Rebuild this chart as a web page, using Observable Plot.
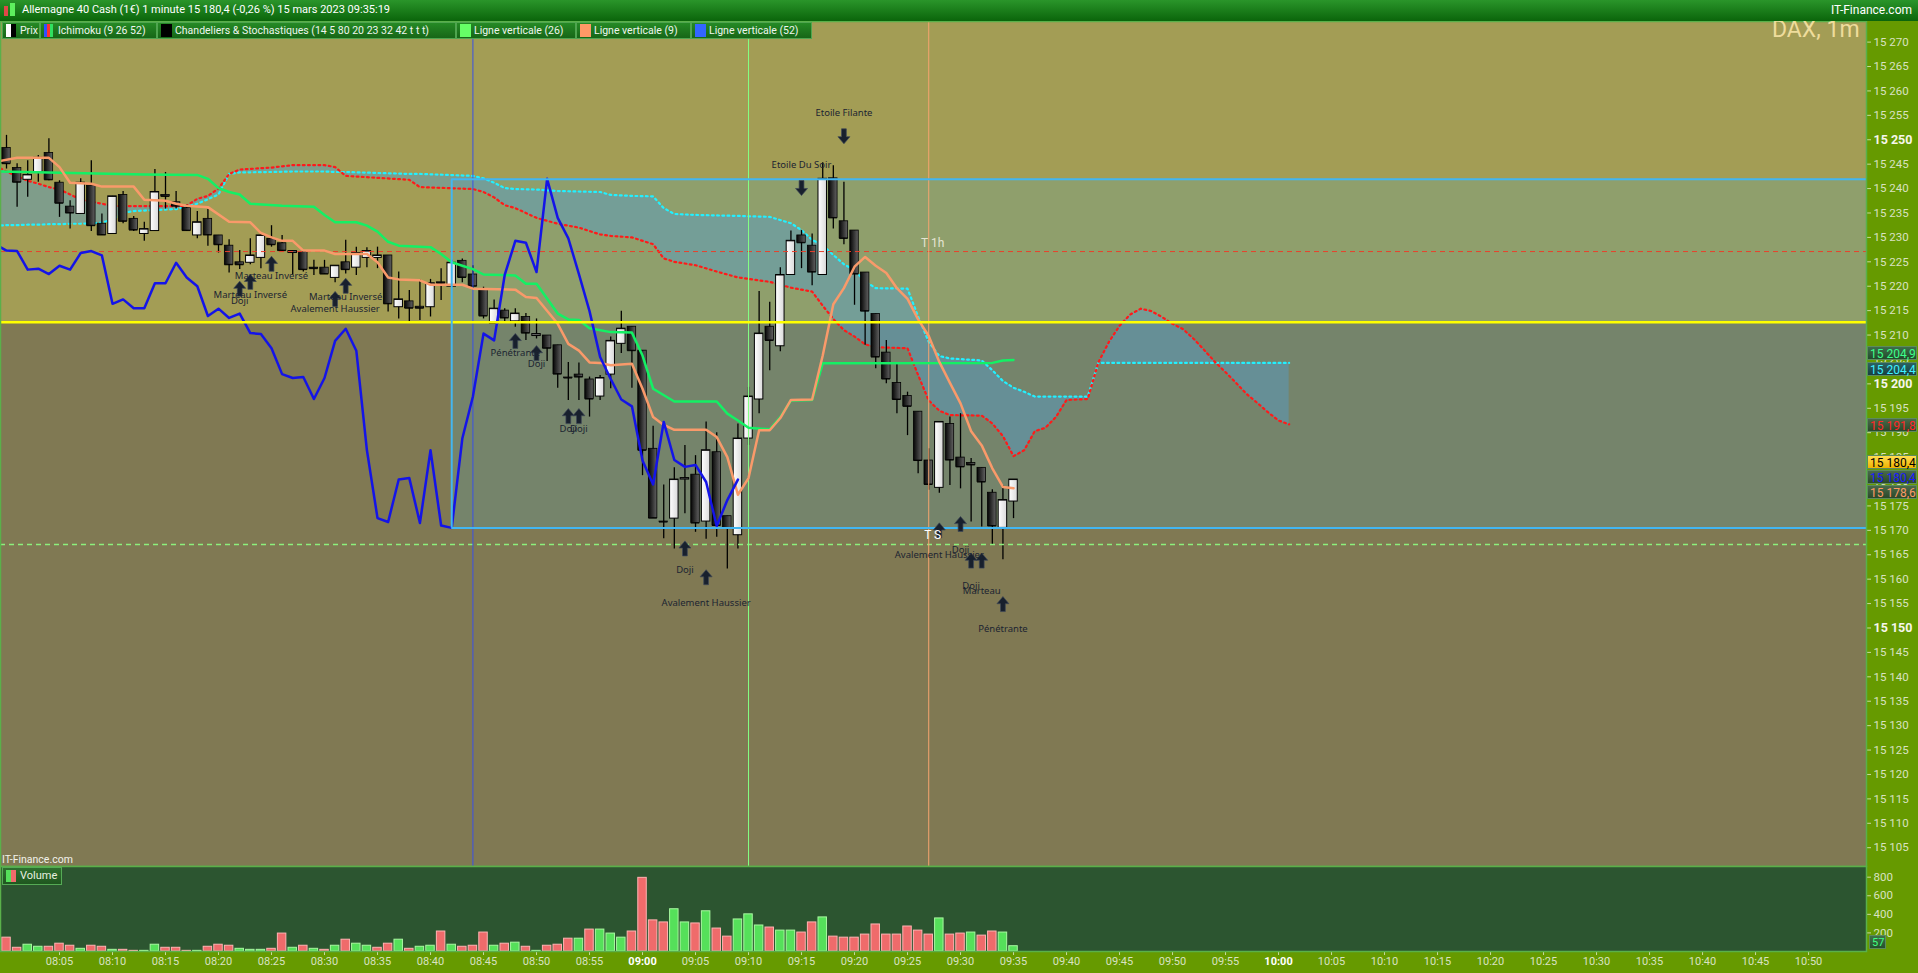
<!DOCTYPE html>
<html><head><meta charset="utf-8">
<script src="https://cdn.jsdelivr.net/npm/d3@7"></script>
<script src="https://cdn.jsdelivr.net/npm/@observablehq/plot@0.6"></script>
<style>
body{margin:0;width:1918px;height:973px;overflow:hidden;background:#669a00;position:relative;font-family:Roboto,"Noto Sans",sans-serif;}
#header{position:absolute;left:0;top:0;width:1918px;height:21px;background:linear-gradient(#2a952a,#0b650b);color:#fff;font-size:11px;z-index:3;}
#header .t{position:absolute;left:22px;top:3px;white-space:nowrap;}
#header .r{position:absolute;right:6px;top:3px;font-size:12px;}
.ico{position:absolute;}
#legend{position:absolute;left:2px;top:22px;height:17px;z-index:3;}
.li{position:absolute;top:0;height:15px;background:linear-gradient(#258a25,#176617);border:1px solid #4fa54f;color:#eef5ee;font-size:10.5px;line-height:15px;white-space:nowrap;overflow:hidden;}
.li .sw{position:absolute;left:3px;top:1px;width:11px;height:13px;}
.li .tx{position:absolute;left:17px;top:0;}
#dax{position:absolute;left:1772px;top:18px;font-size:23px;line-height:23px;color:#eedc9c;z-index:2;white-space:nowrap;}
#itf{position:absolute;left:2px;top:853px;font-size:10.5px;color:#f2f2ea;z-index:2;}
#vleg{position:absolute;left:2px;top:867px;width:58px;height:16px;background:linear-gradient(#2f6e2f,#1f561f);border:1px solid #55aa55;z-index:2;color:#e8f0e0;font-size:11px;line-height:16px;}
.badge{position:absolute;left:1867px;width:50px;height:14px;font-size:12px;line-height:14px;text-align:left;padding-left:2px;box-sizing:border-box;border:1px solid #5d8a5d;z-index:2;white-space:nowrap;}
</style></head><body>
<div id="header">
  <div class="ico" style="left:4px;top:6px;width:4px;height:10px;background:#e04848"></div>
  <div class="ico" style="left:10px;top:3px;width:5px;height:13px;background:#5ef05e"></div>
  <div class="t">Allemagne 40 Cash (1€) 1 minute 15 180,4 (-0,26 %) 15 mars 2023 09:35:19</div>
  <div class="r">IT-Finance.com</div>
</div>
<div id="price" style="position:absolute;left:0;top:21px"></div>
<div id="vol" style="position:absolute;left:0;top:866px"></div>
<div id="legend">
  <div class="li" style="left:0;width:36px"><div class="sw" style="width:5px;background:#fff"></div><div class="sw" style="left:8px;width:5px;background:#000"></div><div class="tx">Prix</div></div>
  <div class="li" style="left:38px;width:115px"><div class="sw" style="width:3px;background:#3050ff"></div><div class="sw" style="left:6px;width:3px;background:#ff3030"></div><div class="sw" style="left:9px;width:3px;background:#30e060"></div><div class="tx">Ichimoku (9 26 52)</div></div>
  <div class="li" style="left:155px;width:297px"><div class="sw" style="background:#000"></div><div class="tx">Chandeliers &amp; Stochastiques (14 5 80 20 23 32 42 t t t)</div></div>
  <div class="li" style="left:454px;width:118px"><div class="sw" style="background:#66ff66"></div><div class="tx">Ligne verticale (26)</div></div>
  <div class="li" style="left:574px;width:113px"><div class="sw" style="background:#ff9966"></div><div class="tx">Ligne verticale (9)</div></div>
  <div class="li" style="left:689px;width:119px"><div class="sw" style="background:#3366ff"></div><div class="tx">Ligne verticale (52)</div></div>
</div>
<div id="dax">DAX, 1m</div>
<div id="itf">IT-Finance.com</div>
<div id="vleg"><div style="position:absolute;left:3px;top:2px;width:5px;height:12px;background:#55e05a"></div><div style="position:absolute;left:8px;top:2px;width:5px;height:12px;background:#ef6b6b"></div><div style="position:absolute;left:17px;top:0">Volume</div></div>
<script>
// ---------- DATA ----------
const times = ["08:00","08:01","08:02","08:03","08:04","08:05","08:06","08:07","08:08","08:09",
"08:10","08:11","08:12","08:13","08:14","08:15","08:16","08:17","08:18","08:19",
"08:20","08:21","08:22","08:23","08:24","08:25","08:26","08:27","08:28","08:29",
"08:30","08:31","08:32","08:33","08:34","08:35","08:36","08:37","08:38","08:39",
"08:40","08:41","08:42","08:43","08:44","08:45","08:46","08:47","08:48","08:49",
"08:50","08:51","08:52","08:53","08:54","08:55","08:56","08:57","08:58","08:59",
"09:00","09:01","09:02","09:03","09:04","09:05","09:06","09:07","09:08","09:09",
"09:10","09:11","09:12","09:13","09:14","09:15","09:16","09:17","09:18","09:19",
"09:20","09:21","09:22","09:23","09:24","09:25","09:26","09:27","09:28","09:29",
"09:30","09:31","09:32","09:33","09:34","09:35"];
const open = [15248.3,15244.2,15241.8,15243.3,15247.3,15241.2,15236.3,15234.8,15240.6,15232.8,
15230.7,15238.7,15233.8,15230.7,15231.3,15238.7,15237.2,15236.0,15230.4,15233.8,
15230.4,15228.3,15224.9,15224.8,15225.8,15229.7,15228.8,15226.8,15227.0,15223.8,
15223.8,15221.7,15224.9,15223.8,15225.8,15225.8,15226.3,15215.7,15216.9,15215.8,
15215.7,15220.8,15219.9,15225.2,15222.4,15219.4,15212.3,15215.0,15212.8,15213.7,
15209.8,15209.9,15207.9,15201.3,15201.9,15200.9,15197.4,15201.9,15208.2,15211.7,
15206.8,15186.7,15171.8,15172.4,15180.4,15181.4,15171.8,15186.0,15172.9,15169.0,
15188.8,15196.8,15211.7,15207.7,15222.3,15230.4,15228.3,15222.3,15242.1,15233.3,
15231.4,15222.8,15214.3,15206.4,15200.2,15197.5,15194.3,15184.3,15178.7,15191.8,
15184.9,15183.8,15182.8,15177.7,15170.5,15175.9];
const high = [15250.9,15245.1,15245.7,15246.8,15250.2,15241.6,15237.5,15242.0,15245.7,15234.8,
15238.4,15239.4,15234.3,15233.1,15243.9,15243.3,15239.4,15236.7,15235.3,15235.7,
15230.4,15229.5,15227.3,15229.7,15230.9,15232.4,15230.4,15227.2,15227.1,15225.3,
15225.3,15224.2,15229.4,15228.0,15227.9,15228.0,15226.3,15222.9,15219.1,15221.4,
15221.4,15223.6,15225.3,15225.6,15224.2,15219.8,15217.2,15215.4,15215.4,15214.4,
15213.3,15209.9,15207.9,15204.4,15204.3,15201.4,15201.7,15209.6,15214.9,15211.7,
15206.8,15191.3,15179.3,15182.8,15187.4,15185.3,15192.2,15190.0,15172.9,15191.8,
15199.3,15218.9,15216.7,15223.8,15231.3,15231.4,15230.7,15245.3,15244.7,15241.3,
15231.4,15222.8,15214.3,15208.9,15204.1,15198.3,15194.3,15186.7,15192.2,15193.2,
15193.9,15184.7,15182.8,15178.3,15179.2,15180.4];
const low = [15244.0,15236.2,15238.2,15241.3,15241.6,15234.1,15231.7,15234.8,15231.2,15230.4,
15230.7,15232.8,15231.2,15229.2,15231.3,15235.8,15235.8,15231.2,15229.7,15228.2,
15226.8,15222.7,15223.4,15224.4,15223.6,15228.0,15227.1,15222.3,15222.9,15222.2,
15222.4,15220.7,15222.5,15222.2,15223.8,15223.6,15214.7,15213.3,15212.8,15213.0,
15213.7,15217.1,15219.7,15220.7,15219.1,15213.3,15212.3,15212.8,15211.6,15208.9,
15209.2,15204.6,15199.1,15196.6,15196.6,15193.2,15196.6,15199.0,15206.2,15199.1,
15181.2,15172.5,15168.3,15166.2,15173.4,15169.6,15168.2,15168.6,15162.1,15166.2,
15187.4,15193.9,15202.7,15206.6,15222.3,15223.6,15220.1,15222.3,15231.7,15228.5,
15216.1,15207.9,15203.1,15200.0,15193.9,15189.4,15181.6,15178.2,15177.6,15179.2,
15178.5,15171.7,15170.7,15167.1,15164.0,15172.4];
const close = [15245.1,15241.3,15242.8,15246.3,15241.8,15237.0,15235.0,15241.2,15232.4,15230.5,
15238.4,15233.3,15231.5,15231.7,15239.3,15238.4,15236.4,15231.4,15233.1,15230.5,
15228.5,15224.4,15224.4,15226.3,15230.4,15228.5,15227.3,15227.2,15223.4,15223.6,
15222.5,15224.2,15223.4,15226.8,15227.2,15226.3,15216.4,15217.3,15215.5,15215.5,
15220.6,15220.6,15224.8,15221.8,15220.0,15213.9,15215.4,15213.5,15214.4,15210.4,
15210.2,15207.3,15202.0,15201.2,15201.4,15196.9,15201.2,15208.8,15211.3,15206.8,
15186.4,15172.5,15171.7,15180.4,15180.7,15171.5,15186.4,15171.0,15170.5,15188.8,
15197.4,15210.3,15208.9,15222.3,15229.3,15228.9,15222.9,15242.0,15234.0,15229.8,
15222.5,15214.9,15205.5,15201.0,15196.8,15195.4,15184.3,15179.4,15192.2,15184.4,
15183.0,15183.4,15179.9,15170.9,15176.2,15180.4];
const volume = [149,40,73,51,51,84,62,29,62,51,
18,18,7,7,73,40,40,7,7,51,
73,62,29,18,18,29,193,40,62,29,
18,62,127,84,62,40,84,127,29,51,
62,215,73,51,62,204,62,84,95,51,
7,62,73,138,138,236,236,193,149,215,
793,335,313,455,313,302,433,247,160,345,
400,280,258,225,225,204,313,367,160,149,
149,182,291,182,182,269,225,182,356,182,
193,204,171,215,204,57];
const volumeDir = ["R","R","G","G","R","R","R","G","R","R",
"G","R","R","G","G","R","R","R","G","R",
"R","R","G","G","G","R","R","G","R","G",
"R","G","R","G","G","R","R","G","R","G",
"G","R","G","R","R","R","G","R","G","R",
"G","R","R","R","G","R","G","G","G","R",
"R","R","R","G","G","R","G","R","R","G",
"G","G","R","G","G","R","R","G","R","R",
"R","R","R","R","R","R","R","R","G","R",
"R","G","R","R","G","G"];

// Ichimoku
const tenkanTime = ["07:59","08:01","08:04","08:05","08:06","08:08","08:09","08:12","08:13","08:15","08:16","08:17","08:19","08:21","08:23","08:24","08:25","08:26","08:27","08:28","08:30","08:31","08:34","08:35","08:36","08:37","08:39","08:40","08:43","08:44","08:48","08:49","08:50","08:52","08:53","08:54","08:55","08:56","08:57","08:59","09:00","09:01","09:02","09:03","09:06","09:07","09:08","09:09","09:10","09:11","09:12","09:13","09:14","09:16","09:17","09:18","09:19","09:20","09:21","09:22","09:23","09:24","09:25","09:26","09:27","09:28","09:29","09:30","09:31","09:32","09:33","09:34","09:35"];
const tenkanValue = [15245.5,15246.3,15246.3,15244.4,15241.2,15241.0,15240.4,15240.4,15237.7,15237.5,15236.9,15236.5,15236.2,15233.2,15233.1,15230.9,15230.0,15229.3,15229.3,15227.3,15227.3,15226.6,15226.6,15224.9,15221.8,15221.4,15221.2,15220.3,15220.3,15219.5,15219.3,15217.8,15217.6,15212.3,15208.2,15206.8,15204.4,15204.3,15203.8,15204.1,15199.0,15193.2,15191.6,15190.6,15190.6,15189.1,15185.0,15177.3,15180.7,15190.5,15190.5,15193.0,15196.7,15196.8,15205.8,15216.3,15219.6,15224.0,15226.0,15224.2,15222.7,15219.6,15217.4,15213.2,15209.8,15204.5,15200.2,15196.0,15190.3,15187.4,15182.7,15178.9,15178.6];
const kijunTime = ["07:59","08:13","08:18","08:19","08:20","08:21","08:22","08:23","08:26","08:29","08:30","08:31","08:33","08:34","08:35","08:36","08:37","08:40","08:41","08:42","08:43","08:44","08:45","08:48","08:49","08:50","08:52","08:53","08:54","08:55","08:57","08:59","09:00","09:01","09:03","09:07","09:08","09:09","09:10","09:12","09:13","09:14","09:16","09:17","09:33","09:34","09:35"];
const kijunValue = [15243.5,15242.9,15242.8,15242.0,15240.1,15239.3,15238.8,15236.9,15236.5,15236.3,15234.6,15233.1,15233.1,15232.4,15231.2,15229.1,15228.3,15228.0,15226.6,15224.9,15224.2,15223.5,15222.4,15222.2,15220.5,15220.5,15214.4,15213.2,15213.1,15211.4,15210.6,15210.5,15205.8,15199.0,15196.4,15196.4,15193.9,15192.5,15191.0,15190.7,15193.2,15196.6,15196.7,15204.2,15204.3,15204.8,15204.9];
const cloudTime = ["07:59","08:00","08:01","08:02","08:03","08:04","08:05","08:06","08:07","08:08","08:09","08:10","08:11","08:12","08:16","08:17","08:18","08:19","08:20","08:21","08:22","08:25","08:27","08:30","08:31","08:32","08:38","08:39","08:44","08:45","08:46","08:47","08:48","08:50","08:52","08:54","08:56","08:57","08:59","09:01","09:02","09:03","09:05","09:07","09:09","09:12","09:14","09:15","09:16","09:17","09:18","09:19","09:20","09:21","09:22","09:25","09:26","09:27","09:28","09:29","09:32","09:33","09:34","09:35","09:36","09:37","09:38","09:39","09:40","09:42","09:43","09:44","09:45","09:46","09:47","09:48","09:49","09:50","09:51","09:52","09:53","09:54","09:55","09:56","09:57","09:58","09:59","10:00","10:01"];
const spanA = [15244.6,15243.5,15242.5,15241.6,15241.0,15240.3,15239.8,15238.8,15237.7,15237.3,15236.9,15236.4,15236.4,15236.4,15236.4,15236.5,15237.9,15238.5,15240.0,15243.0,15243.9,15244.3,15244.8,15244.8,15244.4,15242.6,15241.8,15240.3,15239.9,15239.3,15238.2,15236.6,15236.0,15234.0,15232.8,15232.0,15230.6,15230.3,15230.0,15228.6,15225.7,15225.0,15224.3,15223.0,15221.8,15220.9,15219.7,15219.3,15218.9,15216.0,15213.3,15211.0,15209.7,15208.1,15207.5,15207.3,15201.8,15196.6,15194.5,15193.6,15193.5,15191.9,15189.3,15185.2,15186.4,15190.3,15191.0,15193.2,15196.7,15196.9,15204.4,15208.6,15211.9,15214.2,15215.4,15214.9,15213.7,15212.3,15211.2,15209.2,15206.9,15204.5,15202.4,15200.2,15197.9,15196.1,15194.2,15192.5,15191.7];
const spanB = [15232.4,15232.5,15232.5,15232.6,15232.6,15232.7,15232.7,15232.8,15232.8,15232.9,15233.0,15233.7,15235.0,15235.4,15235.8,15236.3,15236.9,15237.8,15238.8,15243.0,15243.3,15243.4,15243.5,15243.5,15243.4,15243.4,15243.0,15243.0,15242.6,15242.1,15241.2,15240.1,15239.9,15239.8,15239.5,15239.4,15239.3,15238.7,15238.5,15238.4,15236.0,15234.8,15234.6,15234.5,15234.4,15234.2,15232.9,15231.5,15229.5,15228.4,15226.4,15224.5,15223.3,15221.0,15219.6,15219.5,15213.8,15208.6,15205.7,15205.2,15204.8,15202.8,15200.6,15199.2,15198.4,15197.4,15197.4,15197.4,15197.4,15197.4,15204.3,15204.3,15204.3,15204.3,15204.3,15204.3,15204.3,15204.3,15204.3,15204.3,15204.3,15204.3,15204.3,15204.3,15204.3,15204.3,15204.3,15204.3,15204.3];
const chikouShiftMinutes = 26;

// Horizontal levels and drawn objects
const yellowLevel = 15212.6;
const t1hLevel = 15227.1;
const tsLevel = 15167.1;
const boxStart = "08:42", boxTop = 15241.9, boxBottom = 15170.5;
const verticalLines = [{time:"08:44", color:"#3a52e6"}, {time:"09:10", color:"#84ff84"}, {time:"09:27", color:"#f5a470"}];
const trendLabels = [{time:"09:27", price:15228.8, text:"T 1h", color:"#e4e4d2"}, {time:"09:27", price:15169.0, text:"T S", color:"#ffffff"}];

// Candlestick patterns
const patternTime = ["08:25","08:23","08:22","08:32","08:31","08:48","08:50","08:53","08:54","09:04","09:06","09:15","09:19","09:28","09:30","09:31","09:32","09:34"];
const patternText = ["Marteau Inversé","Marteau Inversé","Doji","Marteau Inversé","Avalement Haussier","Pénétrante","Doji","Doji","Doji","Doji","Avalement Haussier","Etoile Du Soir","Etoile Filante","Avalement Haussier","Doji","Doji","Marteau","Pénétrante"];
const patternTextPrice = [15222.05,15218.3,15216.9,15217.75,15215.4,15206.4,15204.0,15190.8,15190.8,15161.9,15155.2,15244.9,15255.5,15165.0,15166.0,15158.7,15157.5,15149.8];
const patternArrowPrice = [15224.6,15220.9,15219.5,15220.1,15217.4,15208.8,15206.3,15193.4,15193.4,15166.3,15160.4,15240.1,15250.7,15170.0,15171.3,15163.8,15163.8,15154.9];
const patternDir = ["up","up","up","up","up","up","up","up","up","up","up","down","down","up","up","up","up","up"];

// Axis ticks
const priceTicks = [15105,15110,15115,15120,15125,15130,15135,15140,15145,15155,15160,15165,15170,15175,15180,15185,15190,15195,15205,15210,15215,15220,15225,15230,15235,15240,15245,15255,15260,15265,15270];
const priceTicksBold = [15150,15200,15250];
const volumeTicks = [200,400,600,800];
const timeTicks = ["08:05","08:10","08:15","08:20","08:25","08:30","08:35","08:40","08:45","08:50","08:55","09:05","09:10","09:15","09:20","09:25","09:30","09:35","09:40","09:45","09:50","09:55","10:05","10:10","10:15","10:20","10:25","10:30","10:35","10:40","10:45","10:50"];
const timeTicksBold = ["09:00","10:00"];

// Last-value badges on the right axis
const badges = [
  {v:15204.9, label:"15 204,9", color:"#3dff8a", bg:"linear-gradient(#3e6e4a,#224a2c)", dy:-6},
  {v:15204.4, label:"15 204,4", color:"#3ff0ff", bg:"linear-gradient(#2c6262,#173f3f)", dy:7.5},
  {v:15191.8, label:"15 191,8", color:"#ff2626", bg:"linear-gradient(#4a6a4a,#2a482a)", dy:2},
  {v:15180.4, label:"15 180,4", color:"#000000", bg:"linear-gradient(#ffdc50,#f0b400)", dy:-16.6},
  {v:15180.4, label:"15 180,4", color:"#1a1aff", bg:"linear-gradient(#4a6a4a,#2a482a)", dy:-2},
  {v:15178.6, label:"15 178,6", color:"#ff9a66", bg:"linear-gradient(#4a6a4a,#2a482a)", dy:4}
];
const lastVolume = 57;

// ---------- BUILD ----------
const T = s => { const [h, m] = s.split(":").map(Number); return new Date(Date.UTC(2023, 2, 15, h, m)); };
const HALF = 24000;
const candles = times.map((t, i) => ({t: T(t), a: new Date(+T(t) - HALF), b: new Date(+T(t) + HALF),
  o: open[i], h: high[i], l: low[i], c: close[i], v: volume[i], d: volumeDir[i]}));
const up = candles.filter(d => d.c >= d.o), down = candles.filter(d => d.c < d.o);
const chikou = candles.map(d => ({t: new Date(+d.t - chikouShiftMinutes * 60000), c: d.c}));
const tenkan = tenkanTime.map((t, i) => ({t: T(t), v: tenkanValue[i]}));
const kijun = kijunTime.map((t, i) => ({t: T(t), v: kijunValue[i]}));
const cloud = cloudTime.map((t, i) => ({t: T(t), a: spanA[i], b: spanB[i]}));
const patterns = patternTime.map((t, i) => ({t: T(t), s: patternText[i], p: patternTextPrice[i], ap: patternArrowPrice[i], dir: patternDir[i]}));

const xDomain = [new Date(Date.UTC(2023, 2, 15, 7, 59, 26)), new Date(Date.UTC(2023, 2, 15, 10, 55, 28))];
const yDomain = [15101.15, 15274.22];

const arrowUp = {draw(ctx, size) { const r = Math.sqrt(size / Math.PI);
  ctx.moveTo(0, -r); ctx.lineTo(0.8 * r, -0.05 * r); ctx.lineTo(0.32 * r, -0.05 * r); ctx.lineTo(0.32 * r, r);
  ctx.lineTo(-0.32 * r, r); ctx.lineTo(-0.32 * r, -0.05 * r); ctx.lineTo(-0.8 * r, -0.05 * r); ctx.closePath(); }};
const arrowDown = {draw(ctx, size) { const r = Math.sqrt(size / Math.PI);
  ctx.moveTo(0, r); ctx.lineTo(0.8 * r, 0.05 * r); ctx.lineTo(0.32 * r, 0.05 * r); ctx.lineTo(0.32 * r, -r);
  ctx.lineTo(-0.32 * r, -r); ctx.lineTo(-0.32 * r, 0.05 * r); ctx.lineTo(-0.8 * r, 0.05 * r); ctx.closePath(); }};

const fmtP = v => { const s = String(v); return s.slice(0, 2) + " " + s.slice(2); };
const axisCol = "#d9e2c0", tickCol = "#c9d9a0";

const price = Plot.plot({
  width: 1918, height: 845, marginTop: 0, marginBottom: 0, marginLeft: 0, marginRight: 52,
  x: {type: "utc", domain: xDomain, axis: null, label: null},
  y: {domain: yDomain, label: null},
  style: {background: "transparent", fontFamily: "Roboto, sans-serif", overflow: "visible"},
  marks: [
    Plot.frame({fill: "#807953", stroke: "none"}),
    Plot.rect([{lo: yellowLevel, hi: yDomain[1]}], {y1: "lo", y2: "hi", fill: "#a39d55"}),
    Plot.rect([{x1: T(boxStart), x2: xDomain[1], y1: boxBottom, y2: boxTop}], {x1: "x1", x2: "x2", y1: "y1", y2: "y2", fill: "#55a7b4", fillOpacity: 0.25}),
    Plot.areaY(cloud, {x: "t", y1: "a", y2: "b", fill: "#559dcd", fillOpacity: 0.45, clip: true}),
    Plot.line(cloud, {x: "t", y: "b", stroke: "#22f0ff", strokeWidth: 2.2, strokeDasharray: "1.8,3.4", clip: true}),
    Plot.line(cloud, {x: "t", y: "a", stroke: "#ff1a1a", strokeWidth: 2.2, strokeDasharray: "1.8,3.4", clip: true}),
    // candles
    Plot.ruleX(candles, {x: "t", y1: "l", y2: "h", stroke: "#000", strokeWidth: 1.3}),
    Plot.rect(down, {x1: "a", x2: "b", y1: "o", y2: "c", fill: "url(#gBlack)", stroke: "#000", strokeWidth: 0.8}),
    Plot.rect(up, {x1: "a", x2: "b", y1: "o", y2: "c", fill: "url(#gWhite)", stroke: "#000", strokeWidth: 1}),
    Plot.ruleY(candles, {x1: "a", x2: "b", y: "c", stroke: "#000", strokeWidth: 1}),
    // levels
    Plot.ruleY([t1hLevel], {stroke: "#e8402c", strokeWidth: 1, strokeDasharray: "5,4"}),
    Plot.ruleY([tsLevel], {stroke: "#8cf07c", strokeWidth: 1.3, strokeDasharray: "5,4"}),
    ...verticalLines.map(v => Plot.ruleX([T(v.time)], {stroke: v.color, strokeWidth: 1})),
    // ichimoku lines
    Plot.line(kijun, {x: "t", y: "v", stroke: "#14f064", strokeWidth: 2.5, clip: true}),
    Plot.line(tenkan, {x: "t", y: "v", stroke: "#f99a6a", strokeWidth: 2.5, clip: true}),
    Plot.line(chikou, {x: "t", y: "c", stroke: "#1414e8", strokeWidth: 2.5, clip: true}),
    Plot.ruleY([yellowLevel], {stroke: "#ffff00", strokeWidth: 2.5}),
    Plot.ruleY([{y: boxTop, x1: T(boxStart), x2: xDomain[1]}, {y: boxBottom, x1: T(boxStart), x2: xDomain[1]}], {y: "y", x1: "x1", x2: "x2", stroke: "#42b6f2", strokeWidth: 2}),
    Plot.ruleX([{x: T(boxStart), y1: boxBottom, y2: boxTop}], {x: "x", y1: "y1", y2: "y2", stroke: "#42b6f2", strokeWidth: 2}),
    // patterns
    Plot.dot(patterns.filter(d => d.dir === "up"), {x: "t", y: "ap", symbol: arrowUp, r: 7.5, fill: "#18202d", stroke: "#3d4858", strokeWidth: 0.7}),
    Plot.dot(patterns.filter(d => d.dir === "down"), {x: "t", y: "ap", symbol: arrowDown, r: 7.5, fill: "#18202d", stroke: "#3d4858", strokeWidth: 0.7}),
    Plot.text(patterns, {x: "t", y: "p", text: "s", fontSize: 9.5, fill: "#1c2431", fontFamily: "Noto Sans"}),
    Plot.text(trendLabels, {x: d => T(d.time), y: "price", text: "text", fill: "color", dx: 4, fontSize: 12}),
    // right axis
    Plot.axisY(priceTicks, {anchor: "right", tickSize: 4, tickPadding: 3, tickFormat: fmtP, fill: axisCol, stroke: tickCol, fontSize: 11.5, label: null}),
    Plot.axisY(priceTicksBold, {anchor: "right", tickSize: 4, tickPadding: 3, tickFormat: fmtP, fill: "#f6f6ec", stroke: tickCol, fontSize: 12.5, fontWeight: "bold", label: null}),
    Plot.frame({stroke: "#5ab04a", strokeWidth: 1.5})
  ]
});
const defs = d3.select(price).insert("defs", ":first-child");
const gb = defs.append("linearGradient").attr("id", "gBlack").attr("x1", "0").attr("x2", "1").attr("y1", "0").attr("y2", "0");
gb.append("stop").attr("offset", "0").attr("stop-color", "#050505");
gb.append("stop").attr("offset", "1").attr("stop-color", "#626262");
const gw = defs.append("linearGradient").attr("id", "gWhite").attr("x1", "0").attr("x2", "1").attr("y1", "0").attr("y2", "0");
gw.append("stop").attr("offset", "0").attr("stop-color", "#ffffff");
gw.append("stop").attr("offset", "1").attr("stop-color", "#dadada");
document.getElementById("price").appendChild(price);

const vol = Plot.plot({
  width: 1918, height: 107, marginTop: 0, marginBottom: 22, marginLeft: 0, marginRight: 52,
  x: {type: "utc", domain: xDomain, label: null},
  y: {domain: [0, 915], label: null},
  style: {background: "transparent", fontFamily: "Roboto, sans-serif", overflow: "visible"},
  marks: [
    Plot.frame({fill: "#2c5530", stroke: "none"}),
    Plot.rect(candles.filter(d => d.d === "G"), {x1: "a", x2: "b", y1: () => 0, y2: "v", fill: "#55e05a", stroke: "#a8f8a0", strokeWidth: 1}),
    Plot.rect(candles.filter(d => d.d === "R"), {x1: "a", x2: "b", y1: () => 0, y2: "v", fill: "#ef6b6b", stroke: "#ffb3b3", strokeWidth: 1}),
    Plot.axisY(volumeTicks, {anchor: "right", tickSize: 4, tickPadding: 3, fill: axisCol, stroke: tickCol, fontSize: 11.5, label: null}),
    Plot.axisX(timeTicks.map(T), {anchor: "bottom", tickSize: 4, tickPadding: 2, tickFormat: d3.utcFormat("%H:%M"), fill: axisCol, stroke: tickCol, fontSize: 11, label: null}),
    Plot.axisX(timeTicksBold.map(T), {anchor: "bottom", tickSize: 4, tickPadding: 2, tickFormat: d3.utcFormat("%H:%M"), fill: "#ffffff", stroke: tickCol, fontSize: 11, fontWeight: "bold", label: null}),
    Plot.frame({stroke: "#5ab04a", strokeWidth: 1.5})
  ]
});
document.getElementById("vol").appendChild(vol);

// badges positioned with the plots' own scales
const ys = price.scale("y");
badges.forEach(b => {
  const el = document.createElement("div");
  el.className = "badge";
  el.textContent = b.label;
  el.style.top = (21 + ys.apply(b.v) + b.dy - 7) + "px";
  el.style.color = b.color;
  el.style.background = b.bg;
  document.body.appendChild(el);
});
const vs = vol.scale("y");
const vb = document.createElement("div");
vb.className = "badge";
vb.textContent = String(lastVolume);
vb.style.cssText += `top:${866 + vs.apply(lastVolume) - 11}px;left:1869px;width:17px;color:#40ff80;background:linear-gradient(#3f7248,#24502c);font-size:11px;`;
document.body.appendChild(vb);
</script>
</body></html>
